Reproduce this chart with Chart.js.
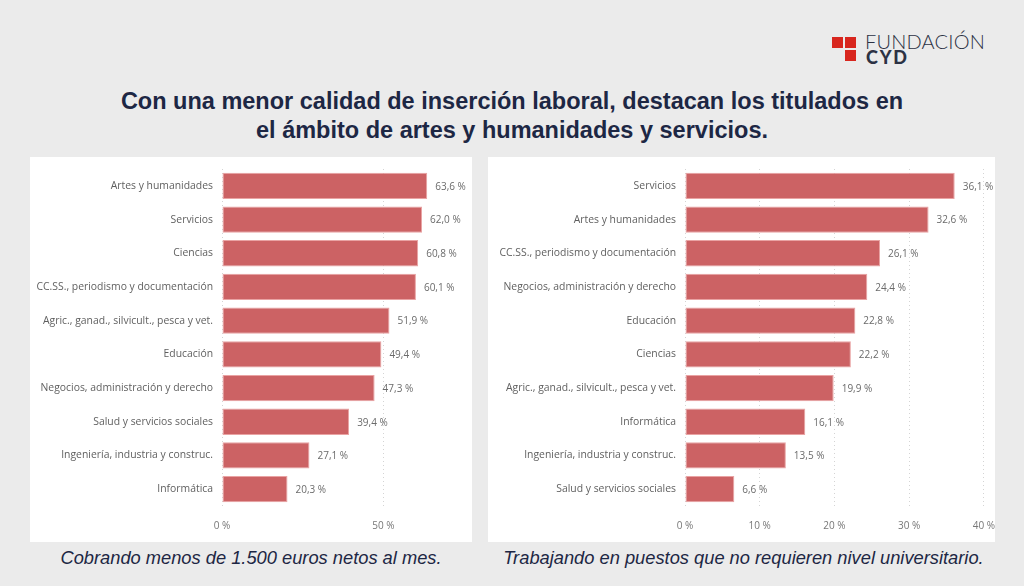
<!DOCTYPE html>
<html>
<head>
<meta charset="utf-8">
<script src="https://cdn.jsdelivr.net/npm/chart.js@4.4.1/dist/chart.umd.min.js"></script>
<style>
  html, body { margin: 0; padding: 0; }
  body { width: 1024px; height: 586px; background: #ebebeb; position: relative; overflow: hidden; font-family: "Liberation Sans", Arial, sans-serif; }
  .sq { position: absolute; width: 11px; height: 11px; background: #d8261e; }
  #logo1 { position: absolute; left: 865px; top: 29px; font-family: "Lato", sans-serif; font-weight: 300; font-size: 20px; color: #2c3244; letter-spacing: 0.2px; }
  #logo2 { position: absolute; left: 866px; top: 46px; font-family: "Lato", sans-serif; font-weight: 900; font-size: 18px; color: #2c3244; letter-spacing: 1.8px; }
  #title { position: absolute; left: 0; width: 1024px; top: 87px; text-align: center; font-weight: bold; font-size: 23.5px; line-height: 29px; color: #1d2744; }
  .panel { position: absolute; top: 157px; height: 385px; background: #fff; }
  .sub { position: absolute; top: 547px; text-align: center; font-style: italic; font-size: 18.3px; color: #1d2744; }
</style>
</head>
<body>
<div class="sq" style="left:832px;top:37px"></div>
<div class="sq" style="left:845px;top:37px"></div>
<div class="sq" style="left:845px;top:50px"></div>
<div id="logo1">FUNDACIÓN</div>
<div id="logo2">CYD</div>
<div id="title">Con una menor calidad de inserción laboral, destacan los titulados en<br>el ámbito de artes y humanidades y servicios.</div>

<div class="panel" style="left:30px;width:442px"><canvas id="leftChart"></canvas></div>
<div class="panel" style="left:488px;width:507px"><canvas id="rightChart"></canvas></div>
<div class="sub" style="left:30px;width:442px">Cobrando menos de 1.500 euros netos al mes.</div>
<div class="sub" style="left:482px;width:523px">Trabajando en puestos que no requieren nivel universitario.</div>

<script>
const leftCategories = [
  "Artes y humanidades", "Servicios", "Ciencias", "CC.SS., periodismo y documentación",
  "Agric., ganad., silvicult., pesca y vet.", "Educación", "Negocios, administración y derecho",
  "Salud y servicios sociales", "Ingeniería, industria y construc.", "Informática"
];
const leftValues = [63.6, 62.0, 60.8, 60.1, 51.9, 49.4, 47.3, 39.4, 27.1, 20.3];
const leftTicks = [0, 50];

const rightCategories = [
  "Servicios", "Artes y humanidades", "CC.SS., periodismo y documentación",
  "Negocios, administración y derecho", "Educación", "Ciencias",
  "Agric., ganad., silvicult., pesca y vet.", "Informática",
  "Ingeniería, industria y construc.", "Salud y servicios sociales"
];
const rightValues = [36.1, 32.6, 26.1, 24.4, 22.8, 22.2, 19.9, 16.1, 13.5, 6.6];
const rightTicks = [0, 10, 20, 30, 40];

const barColor = "#cc6264";
const labelFont = "'Open Sans', 'Noto Sans', sans-serif";

function fmt(v) {
  return v.toFixed(1).replace(".", ",") + " %";
}

// value labels drawn after the bars
const valueLabels = {
  id: "valueLabels",
  afterDatasetsDraw(chart) {
    const ctx = chart.ctx;
    const meta = chart.getDatasetMeta(0);
    ctx.save();
    ctx.font = "10px " + labelFont;
    ctx.fillStyle = "#6b6b6b";
    ctx.textAlign = "left";
    ctx.textBaseline = "middle";
    meta.data.forEach((bar, i) => {
      const v = chart.data.datasets[0].data[i];
      ctx.fillText(fmt(v), bar.x + 8, bar.y + 1);
    });
    ctx.restore();
  }
};

function makeChart(id, cats, vals, ticks, max, yWidth, padRight) {
  new Chart(document.getElementById(id), {
    type: "bar",
    data: {
      labels: cats,
      datasets: [{
        data: vals,
        backgroundColor: barColor,
        borderColor: "#e9a3a3",
        borderWidth: 1,
        borderSkipped: false,
        barPercentage: 0.78,
        categoryPercentage: 1
      }]
    },
    options: {
      indexAxis: "y",
      responsive: true,
      maintainAspectRatio: false,
      animation: false,
      layout: { padding: { top: 12, right: padRight, bottom: 0, left: 0 } },
      plugins: { legend: { display: false }, tooltip: { enabled: false } },
      scales: {
        x: {
          min: 0,
          max: max,
          afterBuildTicks: scale => { scale.ticks = ticks.map(v => ({ value: v })); },
          afterFit: scale => { scale.height = 36; },
          grid: { color: "#d4d4d4", lineWidth: 1, drawTicks: true, tickLength: 14, tickColor: "rgba(0,0,0,0)" },
          border: { display: false, dash: [1, 3] },
          ticks: {
            padding: 0,
            color: "#777",
            font: { family: labelFont, size: 10 },
            callback: v => v + " %"
          }
        },
        y: {
          afterFit: scale => { scale.width = yWidth; },
          grid: { display: false, drawTicks: true, tickLength: 9 },
          border: { display: false },
          ticks: {
            padding: 0,
            color: "#5f5f5f",
            font: { family: labelFont, size: 10.4 },
            autoSkip: false
          }
        }
      }
    },
    plugins: [valueLabels]
  });
}

makeChart("leftChart", leftCategories, leftValues, leftTicks, 75, 192, 8);
makeChart("rightChart", rightCategories, rightValues, rightTicks, 40, 197, 0);
</script>
</body>
</html>
